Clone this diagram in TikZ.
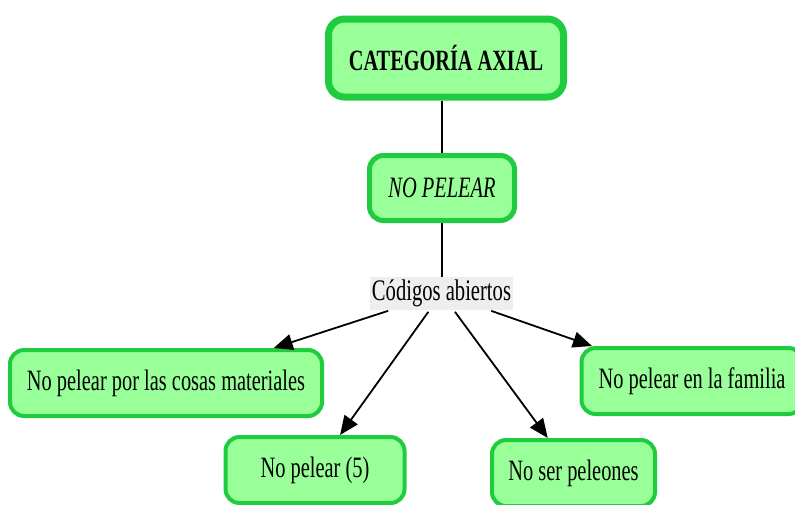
\documentclass[tikz,border=0pt]{standalone}
\usepackage{fontspec}
\setmainfont{Liberation Serif}
\usetikzlibrary{arrows.meta}
\definecolor{boxfill}{HTML}{99FF99}
\definecolor{boxdraw}{HTML}{1FCC3F}
\definecolor{codfill}{HTML}{EEEEEE}
\newcommand{\vst}[1]{\scalebox{1}[1.45]{#1}}
\begin{document}
\begin{tikzpicture}[x=1pt,y=-1pt,
  box/.style={draw=boxdraw, fill=boxfill, rounded corners=14pt, line width=4pt,
    font=\fontsize{20.4}{24}\selectfont, inner sep=0pt},
  lbl/.style={fill=codfill, inner sep=0pt, font=\fontsize{20.6}{24}\selectfont},
  link/.style={line width=1.2pt},
  arr/.style={-{Triangle[length=19pt,width=16pt]}, line width=1.8pt, shorten <=2pt}]
\useasboundingbox (0,0) rectangle (795,504);
\clip (0,0) rectangle (795,504);
\node[box, line width=7pt, rounded corners=16pt, minimum width=235pt, minimum height=78pt, font=\fontsize{20.3}{24}\selectfont\bfseries] (top) at (446,58) {\vst{CATEGORÍA AXIAL}};
\node[box, line width=5pt, minimum width=145pt, minimum height=65pt, font=\fontsize{20.4}{24}\selectfont\itshape] (mid) at (442,188) {\vst{NO PELEAR}};
\node[lbl, minimum width=143pt, minimum height=33pt] (cod) at (441.5,293.5) {\vst{Códigos abiertos}};
\node[box, minimum width=312pt, minimum height=66pt] (b1) at (166,383) {\vst{No pelear por las cosas materiales}};
\node[box, minimum width=179pt, minimum height=66pt] (b2) at (315,470) {\vst{No pelear (5)}};
\node[box, minimum width=163pt, minimum height=66pt] (b3) at (573.5,473) {\vst{No ser peleones}};
\node[box, minimum width=221pt, minimum height=66pt] (b4) at (692,381) {\vst{No pelear en la familia}};
\draw[link] (mid.north) -- (mid.north |- top.south);
\draw[link] (mid.south) -- (mid.south |- cod.north);
\draw[arr] (cod) -- (b1);
\draw[arr] (cod) -- (b2);
\draw[arr] (cod) -- (b3);
\draw[arr] (cod) -- (b4);
\end{tikzpicture}
\end{document}
